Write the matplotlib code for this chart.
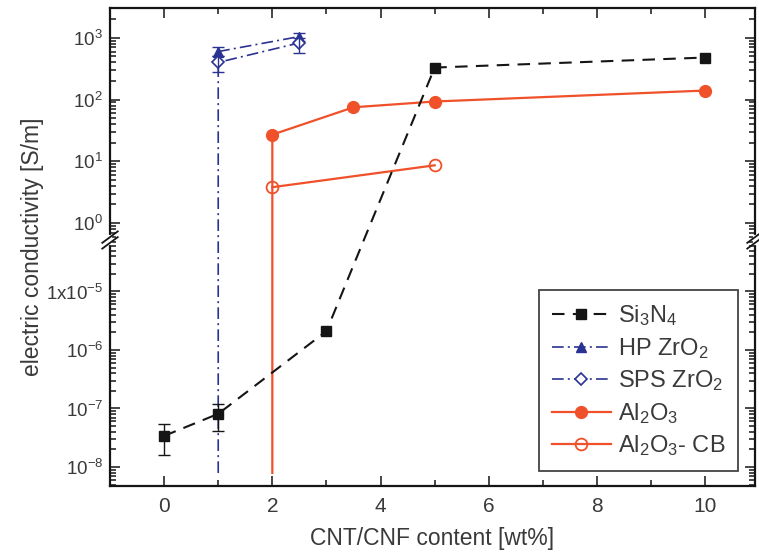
import numpy as np
import matplotlib
matplotlib.use("Agg")
import matplotlib.pyplot as plt
from matplotlib.ticker import FixedLocator, FixedFormatter, NullFormatter

plt.rcParams["font.family"] = "Liberation Sans"
plt.rcParams["mathtext.fontset"] = "custom"
plt.rcParams["mathtext.rm"] = "Liberation Sans"
plt.rcParams["mathtext.it"] = "Liberation Sans"

# data
si_x = [0, 1, 3, 5, 10]
si_y = [3.4e-8, 8.1e-8, 2.1e-6, 330, 480]
si_err_x = [0, 1]
si_err_y = [3.4e-8, 8.1e-8]
si_err_lo = [1.8e-8, 3.9e-8]
si_err_hi = [2.1e-8, 3.9e-8]

hp_x = [1, 2.5]
hp_y = [600, 1050]
hp_err_lo = [90, 150]
hp_err_hi = [120, 150]

# first point = drop to non-conductive (bottom of the axis)
sps_x = [1, 1, 2.5]
sps_y = [7.9e-9, 400, 830]
sps_err_lo = [120, 260]
sps_err_hi = [100, 170]

al_x = [2, 2, 3.5, 5, 10]
al_y = [7.9e-9, 27, 75, 93, 140]

alcb_x = [2, 5]
alcb_y = [3.8, 8.6]

major_vals = [1e-8, 1e-7, 1e-6, 1e-5, 1, 10, 100, 1000]
major_labels = [r"$\mathregular{10^{-8}}$", r"$\mathregular{10^{-7}}$",
                r"$\mathregular{10^{-6}}$", r"$\mathregular{1x10^{-5}}$",
                r"$\mathregular{10^{0}}$", r"$\mathregular{10^{1}}$",
                r"$\mathregular{10^{2}}$", r"$\mathregular{10^{3}}$"]

# broken log axis: lower part 1e-8..1e-4.1, upper part 1e-0.28..1e3.5
def fwd(v):
    with np.errstate(all="ignore"):
        lv = np.log10(np.clip(np.asarray(v, float), 1e-15, None))
        return np.where(lv < -2.2, 19 + (lv + 8) * 58.5, 263 + lv * 61.7)

def inv(t):
    t = np.asarray(t, float)
    with np.errstate(all="ignore"):
        return np.where(t < 246, 10 ** ((t - 19) / 58.5 - 8), 10 ** ((t - 263) / 61.7))

black = "#151515"
blue = "#2a3391"
red = "#f0502a"
txt = "#3a3a3a"

fig = plt.figure(figsize=(7.59, 5.55), dpi=100)
ax = fig.add_axes([110 / 759, 1 - 486 / 555, 645 / 759, 478 / 555])
ax.set_yscale("function", functions=(fwd, inv))

ax.plot(si_x, si_y, color=black, lw=1.5, dashes=(6, 4), marker="s", ms=7,
        label=r"Si$_\mathregular{3}$N$_\mathregular{4}$", zorder=4)
ax.errorbar(si_err_x, si_err_y, yerr=[si_err_lo, si_err_hi], fmt="none",
            ecolor=black, elinewidth=1, capsize=4, zorder=4)

dashdot = (0, (7, 2.5, 1.2, 2.5))
ax.plot(hp_x, hp_y, color=blue, lw=1.2, ls=dashdot, marker="^", ms=7,
        label=r"HP ZrO$_\mathregular{2}$", zorder=3)
ax.errorbar(hp_x, hp_y, yerr=[hp_err_lo, hp_err_hi], fmt="none",
            ecolor=blue, elinewidth=1, capsize=4, zorder=3)
ax.plot(sps_x, sps_y, color=blue, lw=1.2, ls=dashdot, marker="D", ms=6,
        mfc="white", mew=1.2, markevery=[1, 2],
        label=r"SPS ZrO$_\mathregular{2}$", zorder=3)
ax.errorbar(sps_x[1:], sps_y[1:], yerr=[sps_err_lo, sps_err_hi], fmt="none",
            ecolor=blue, elinewidth=1, capsize=4, zorder=3)

ax.plot(al_x, al_y, color=red, lw=1.6, marker="o", ms=8.5, markevery=[1, 2, 3, 4],
        label=r"Al$_\mathregular{2}$O$_\mathregular{3}$", zorder=2)
ax.plot(alcb_x, alcb_y, color=red, lw=1.6, marker="o", ms=8.5, mfc="none", mew=1.3,
        label=r"Al$_\mathregular{2}$O$_\mathregular{3}$- CB", zorder=2)

ax.set_xlim(-1, 10.92)
ax.set_ylim(10 ** -8.325, 10 ** 3.484)

minor = []
for d in range(-9, -4):
    for k in range(2, 10):
        v = k * 10.0 ** d
        if 10 ** -8.325 < v < 10 ** -4.15:
            minor.append(v)
for d in range(-1, 4):
    for k in range(2, 10):
        v = k * 10.0 ** d
        if 10 ** -0.27 < v < 10 ** 3.48:
            minor.append(v)

ax.yaxis.set_major_locator(FixedLocator(major_vals))
ax.yaxis.set_major_formatter(FixedFormatter(major_labels))
ax.yaxis.set_minor_locator(FixedLocator(minor))
ax.yaxis.set_minor_formatter(NullFormatter())
ax.set_xticks([0, 2, 4, 6, 8, 10])
ax.set_xticks([-1, 1, 3, 5, 7, 9], minor=True)

ax.tick_params(which="both", direction="in", top=True, right=True,
               labelcolor=txt, width=1.1, color=black)
ax.tick_params(which="major", length=7)
ax.tick_params(which="minor", length=4)
ax.tick_params(axis="x", pad=8, labelsize=15)
ax.tick_params(axis="y", pad=5, labelsize=13.5)
for s in ax.spines.values():
    s.set_linewidth(1.6)
    s.set_color(black)

ax.set_xlabel("CNT/CNF content [wt%]", fontsize=16.5, color=txt, labelpad=8)
ax.set_ylabel("electric conductivity [S/m]", fontsize=16.5, color=txt, labelpad=1)

# axis break marks on both vertical spines
yb = (486 - 240) / 478
dx, dy, gap = 0.012, 0.012, 0.006
for xs in (0, 1):
    ax.plot([xs, xs], [yb - gap, yb + gap], color="white", lw=3,
            transform=ax.transAxes, clip_on=False, zorder=6)
    for off in (-gap, gap):
        ax.plot([xs - dx, xs + dx], [yb + off - dy, yb + off + dy], color=black,
                lw=1.3, transform=ax.transAxes, clip_on=False, zorder=7)

leg = ax.legend(loc="lower right", bbox_to_anchor=(0.974, 0.031), fontsize=17,
                frameon=True, fancybox=False, edgecolor=black, handlelength=2.5,
                handletextpad=0.3, labelspacing=0.32, borderpad=0.55,
                borderaxespad=0)
leg.get_frame().set_linewidth(1.3)
for t in leg.get_texts():
    t.set_color(txt)

fig.savefig("out.png", dpi=100)
